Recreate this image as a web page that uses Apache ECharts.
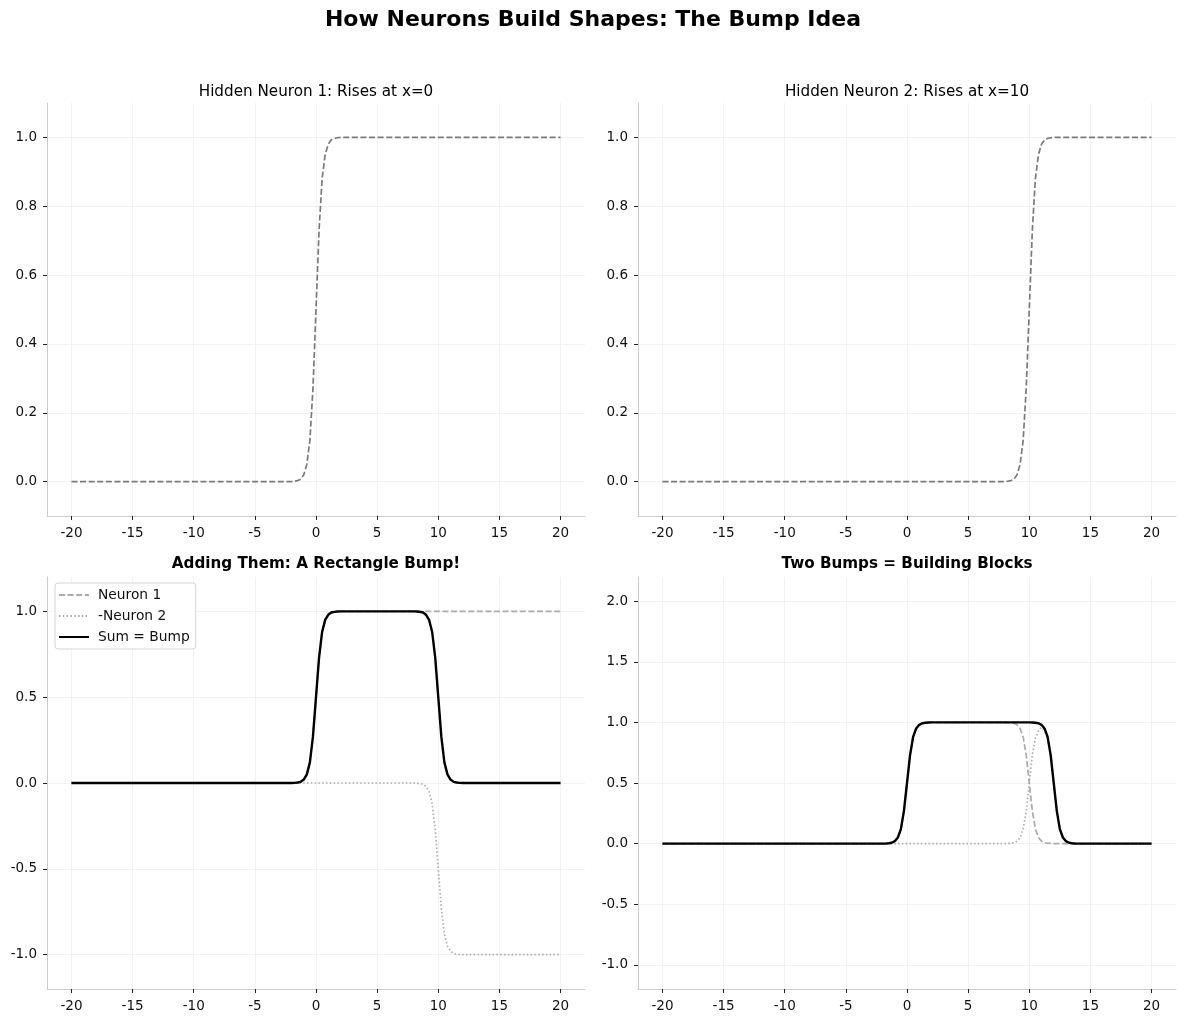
<!DOCTYPE html>
<html>
<head>
<meta charset="utf-8">
<script src="https://cdn.jsdelivr.net/npm/echarts@6/dist/echarts.min.js"></script>
<style>
  html, body { margin: 0; padding: 0; background: #fff; }
  #main { width: 1186px; height: 1023px; }
</style>
</head>
<body>
<div id="main"></div>
<script>
// values
const xTicks = [-20, -15, -10, -5, 0, 5, 10, 15, 20];
const yTicksTop = [0, 0.2, 0.4, 0.6, 0.8, 1.0];
const yTicksBL = [-1.0, -0.5, 0, 0.5, 1.0];
const yTicksBR = [-1.0, -0.5, 0, 0.5, 1.0, 1.5, 2.0];

// neuron 1: step up around x=0
const n1X = [-20, -2, -1.75, -1.5, -1.25, -1, -0.75, -0.5, -0.25, 0, 0.25, 0.5, 0.75, 1, 1.25, 1.5, 1.75, 2, 20];
const n1Y = [0, 0, 0.001, 0.003, 0.007, 0.02, 0.05, 0.12, 0.27, 0.5, 0.73, 0.88, 0.95, 0.98, 0.993, 0.997, 0.999, 1, 1];
// neuron 2: step up around x=10
const n2X = [-20, 8, 8.25, 8.5, 8.75, 9, 9.25, 9.5, 9.75, 10, 10.25, 10.5, 10.75, 11, 11.25, 11.5, 11.75, 12, 20];
const n2Y = [0, 0, 0.001, 0.003, 0.007, 0.02, 0.05, 0.12, 0.27, 0.5, 0.73, 0.88, 0.95, 0.98, 0.993, 0.997, 0.999, 1, 1];
const negN2Y = [0, 0, -0.001, -0.003, -0.007, -0.02, -0.05, -0.12, -0.27, -0.5, -0.73, -0.88, -0.95, -0.98, -0.993, -0.997, -0.999, -1, -1];

// bump from 0 to 10
const bumpX = [-20, -2, -1.75, -1.5, -1.25, -1, -0.75, -0.5, -0.25, 0, 0.25, 0.5, 0.75, 1, 1.25, 1.5, 1.75, 2,
  8, 8.25, 8.5, 8.75, 9, 9.25, 9.5, 9.75, 10, 10.25, 10.5, 10.75, 11, 11.25, 11.5, 11.75, 12, 20];
const bumpY = [0, 0, 0.001, 0.003, 0.007, 0.02, 0.05, 0.12, 0.27, 0.5, 0.73, 0.88, 0.95, 0.98, 0.993, 0.997, 0.999, 1,
  1, 0.999, 0.997, 0.993, 0.98, 0.95, 0.88, 0.73, 0.5, 0.27, 0.12, 0.05, 0.02, 0.007, 0.003, 0.001, 0, 0];

// second bump from 10 to 12
const bump2X = [-20, 8, 8.25, 8.5, 8.75, 9, 9.25, 9.5, 9.75, 10, 10.25, 10.5, 10.75, 11, 11.25, 11.5,
  11.75, 12, 12.25, 12.5, 12.75, 13, 13.25, 13.5, 13.75, 14, 20];
const bump2Y = [0, 0, 0.001, 0.003, 0.007, 0.02, 0.05, 0.12, 0.27, 0.5, 0.73, 0.87, 0.93, 0.96, 0.93, 0.87,
  0.73, 0.5, 0.27, 0.12, 0.05, 0.02, 0.007, 0.003, 0.001, 0, 0];

// sum of both bumps: 0 to 12
const bumpSumX = [-20, -2, -1.75, -1.5, -1.25, -1, -0.75, -0.5, -0.25, 0, 0.25, 0.5, 0.75, 1, 1.25, 1.5, 1.75, 2,
  10, 10.25, 10.5, 10.75, 11, 11.25, 11.5, 11.75, 12, 12.25, 12.5, 12.75, 13, 13.25, 13.5, 13.75, 14, 20];
const bumpSumY = [0, 0, 0.001, 0.003, 0.007, 0.02, 0.05, 0.12, 0.27, 0.5, 0.73, 0.88, 0.95, 0.98, 0.993, 0.997, 0.999, 1,
  1, 0.999, 0.997, 0.993, 0.98, 0.95, 0.88, 0.73, 0.5, 0.27, 0.12, 0.05, 0.02, 0.007, 0.003, 0.001, 0, 0];

function zip(xs, ys) {
  return xs.map((x, i) => [x, ys[i]]);
}

const font = 'DejaVu Sans';
const grids = [
  {left: 47, top: 103, width: 538, height: 413},
  {left: 638, top: 103, width: 538, height: 413},
  {left: 47, top: 577, width: 538, height: 412},
  {left: 638, top: 577, width: 538, height: 412}
];
const yRanges = [[-0.1, 1.1, yTicksTop], [-0.1, 1.1, yTicksTop], [-1.2, 1.2, yTicksBL], [-1.2, 2.2, yTicksBR]];

function xAxis(i) {
  return {
    type: 'value', gridIndex: i, min: -22, max: 22,
    axisLine: {show: true, onZero: false, lineStyle: {color: '#cccccc', width: 1}},
    axisTick: {show: true, customValues: xTicks, length: 4, lineStyle: {color: '#222'}},
    axisLabel: {customValues: xTicks, color: '#111', fontSize: 13.5, fontFamily: font, margin: 10,
      formatter: v => String(v)},
    splitLine: {show: true, lineStyle: {color: '#efefef', width: 0.8}}
  };
}
function yAxis(i) {
  const r = yRanges[i];
  return {
    type: 'value', gridIndex: i, min: r[0], max: r[1],
    axisLine: {show: true, onZero: false, lineStyle: {color: '#cccccc', width: 1}},
    axisTick: {show: true, customValues: r[2], length: 4, lineStyle: {color: '#222'}},
    axisLabel: {customValues: r[2], color: '#111', fontSize: 13.5, fontFamily: font, margin: 10,
      formatter: v => v.toFixed(1)},
    splitLine: {show: true, lineStyle: {color: '#efefef', width: 0.8}}
  };
}

function line(name, i, data, color, width, dash) {
  return {
    name: name, type: 'line', xAxisIndex: i, yAxisIndex: i,
    data: data, symbol: 'none', showSymbol: false, smooth: false,
    lineStyle: {color: color, width: width, type: dash || 'solid', cap: 'butt', join: 'round'},
    itemStyle: {color: color},
    emphasis: {disabled: true}, silent: true
  };
}

const dashed = [6, 2.6];
const dotted = [1.5, 2.3];

const chart = echarts.init(document.getElementById('main'), null, {renderer: 'canvas'});
chart.setOption({
  backgroundColor: '#ffffff',
  animation: false,
  textStyle: {fontFamily: font},
  title: [
    {text: 'How Neurons Build Shapes: The Bump Idea', left: 'center', top: 4,
      textStyle: {fontSize: 22, fontWeight: 'bold', color: '#000', fontFamily: font}},
    {text: 'Hidden Neuron 1: Rises at x=0', left: 311, top: 80, textAlign: 'center',
      textStyle: {fontSize: 15.2, fontWeight: 'normal', color: '#000', fontFamily: font}},
    {text: 'Hidden Neuron 2: Rises at x=10', left: 902, top: 80, textAlign: 'center',
      textStyle: {fontSize: 15.2, fontWeight: 'normal', color: '#000', fontFamily: font}},
    {text: 'Adding Them: A Rectangle Bump!', left: 311, top: 552, textAlign: 'center',
      textStyle: {fontSize: 15.2, fontWeight: 'bold', color: '#000', fontFamily: font}},
    {text: 'Two Bumps = Building Blocks', left: 902, top: 552, textAlign: 'center',
      textStyle: {fontSize: 15.2, fontWeight: 'bold', color: '#000', fontFamily: font}}
  ],
  legend: {
    data: ['Neuron 1', '-Neuron 2', 'Sum = Bump'],
    orient: 'vertical', left: 55, top: 583,
    backgroundColor: '#ffffff', borderColor: '#d6d6d6', borderWidth: 1, borderRadius: 3,
    padding: [5, 6, 5, 3], itemGap: 7, itemWidth: 30, itemHeight: 16,
    itemStyle: {opacity: 0},
    textStyle: {fontSize: 13.8, color: '#111', fontFamily: font, padding: [0, 0, 0, 4]},
    selectedMode: false
  },
  grid: grids,
  xAxis: [0, 1, 2, 3].map(xAxis),
  yAxis: [0, 1, 2, 3].map(yAxis),
  series: [
    line('n1top', 0, zip(n1X, n1Y), '#7a7a7a', 1.7, dashed),
    line('n2top', 1, zip(n2X, n2Y), '#7a7a7a', 1.7, dashed),
    line('Neuron 1', 2, zip(n1X, n1Y), '#ababab', 1.7, dashed),
    line('-Neuron 2', 2, zip(n2X, negN2Y), '#ababab', 1.7, dotted),
    line('Sum = Bump', 2, zip(bumpX, bumpY), '#000000', 2.4),
    line('b1', 3, zip(bumpX, bumpY), '#ababab', 1.7, dashed),
    line('b2', 3, zip(bump2X, bump2Y), '#ababab', 1.7, dotted),
    line('bsum', 3, zip(bumpSumX, bumpSumY), '#000000', 2.4)
  ]
});
</script>
</body>
</html>
